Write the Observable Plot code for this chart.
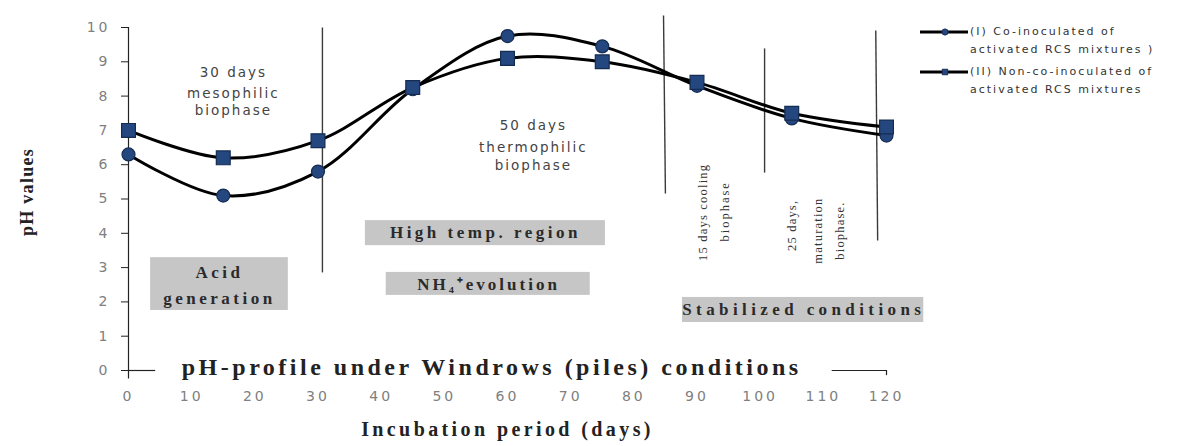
<!DOCTYPE html>
<html>
<head>
<meta charset="utf-8">
<script src="https://cdn.jsdelivr.net/npm/d3@7"></script>
<script src="https://cdn.jsdelivr.net/npm/@observablehq/plot@0.6"></script>
<style>
  body { margin: 0; background: #fff; }
  #wrap { position: relative; width: 1179px; height: 446px; overflow: hidden; background: #fff; }
  #legend { position: absolute; left: 918px; top: 23px; font-family: 'DejaVu Sans', Verdana, sans-serif; font-size: 11px; letter-spacing: 2px; color: #333; line-height: 18px; }
  #legend .item { display: flex; align-items: flex-start; margin-bottom: 4px; }
  #legend svg { flex: none; margin-top: 3px; margin-right: 2px; }
</style>
</head>
<body>
<div id="wrap"></div>
<script>
// ---- data ----
const days = [0, 15, 30, 45, 60, 75, 90, 105, 120];
const coInoculated = [6.3, 5.1, 5.8, 8.2, 9.75, 9.45, 8.3, 7.35, 6.85];
const nonCoInoculated = [7.0, 6.2, 6.7, 8.25, 9.1, 9.0, 8.4, 7.5, 7.1];
const seriesLabels = [
  ["(I) Co-inoculated of", "activated RCS mixtures )"],
  ["(II) Non-co-inoculated of", "activated RCS mixtures"]
];
const seriesSymbols = ["circle", "square"];
const xTicks = [0, 10, 20, 30, 40, 50, 60, 70, 80, 90, 100, 110, 120];
const yTicks = [0, 1, 2, 3, 4, 5, 6, 7, 8, 9, 10];
const chartTitle = "pH-profile under Windrows (piles) conditions";
const xLabel = "Incubation period (days)";
const yLabel = "pH values";

// annotations (in data units: day, pH)
const phaseNotes = [
  {text: "30 days", x: 16.6, y: 8.69},
  {text: "mesophilic", x: 16.6, y: 8.08},
  {text: "biophase", x: 16.6, y: 7.58},
  {text: "50 days", x: 64.1, y: 7.14},
  {text: "thermophilic", x: 64.1, y: 6.5},
  {text: "biophase", x: 64.1, y: 5.98}
];
const boxes = [
  {x1: 3.5, x2: 25.3, y1: 1.75, y2: 3.29},
  {x1: 37.5, x2: 75.5, y1: 3.64, y2: 4.37},
  {x1: 40.8, x2: 73.1, y1: 2.19, y2: 2.86},
  {x1: 87.7, x2: 125.9, y1: 1.40, y2: 2.13}
];
const boxLabels = [
  {text: "Acid", x: 14.4, y: 2.86},
  {text: "generation", x: 14.4, y: 2.10},
  {text: "High temp. region", x: 56.5, y: 4.02},
  {text: "NH\u2084\u207Aevolution", x: 57, y: 2.51},
  {text: "Stabilized conditions", x: 106.9, y: 1.78}
];
const verticalNotes = [
  {text: "15 days cooling", x: 91.0, y: 4.61},
  {text: "biophase", x: 94.5, y: 4.64},
  {text: "25 days,", x: 105.1, y: 4.23},
  {text: "maturation", x: 109.1, y: 4.08},
  {text: "biophase.", x: 112.7, y: 4.08}
];
const phaseLines = [
  {x1: 30.7, y1: 10.0, x2: 30.7, y2: 2.86},
  {x1: 84.7, y1: 10.35, x2: 85.0, y2: 5.16},
  {x1: 100.7, y1: 9.39, x2: 100.7, y2: 5.77},
  {x1: 118.3, y1: 9.91, x2: 118.6, y2: 3.79}
];
const axisLineSegments = [{x1: 0, x2: 4.3}, {x1: 111.4, x2: 120}];
const titlePos = {x: 57.5, y: 0.08};

// ---- build ----
const serif = "'Liberation Serif', 'Times New Roman', serif";
const sans = "'DejaVu Sans', Verdana, sans-serif";
const markerFill = "#25477f";
const markerStroke = "#152c52";

const rows = [];
days.forEach((d, i) => {
  rows.push({day: d, ph: coInoculated[i], s: 0});
  rows.push({day: d, ph: nonCoInoculated[i], s: 1});
});

const svg = Plot.plot({
  width: 1179,
  height: 446,
  marginLeft: 128,
  marginRight: 293,
  marginTop: 27,
  marginBottom: 76,
  style: {background: "#fff", fontFamily: sans, overflow: "visible"},
  x: {domain: [0, 120]},
  y: {domain: [0, 10]},
  marks: [
    Plot.rect(boxes, {x1: "x1", x2: "x2", y1: "y1", y2: "y2", fill: "#c6c6c6"}),
    Plot.link(phaseLines, {x1: "x1", y1: "y1", x2: "x2", y2: "y2", stroke: "#3a3a3a", strokeWidth: 1.4}),
    Plot.ruleX([0], {y1: -0.25, y2: 10, stroke: "#222", strokeWidth: 1.2}),
    Plot.ruleY(axisLineSegments, {x1: "x1", x2: "x2", y: 0, stroke: "#222", strokeWidth: 1.2}),
    Plot.ruleX([120], {y1: -0.15, y2: 0, stroke: "#222", strokeWidth: 1.2}),
    Plot.axisY(yTicks, {tickSize: 7, tickPadding: 11, fontSize: 14, fontFamily: sans, fill: "#808080", stroke: "#222", label: null}),
    Plot.axisX(xTicks, {tickSize: 0, tickPadding: 21, fontSize: 14, fontFamily: sans, fill: "#808080", label: null}),
    Plot.text(phaseNotes, {x: "x", y: "y", text: "text", fontSize: 13.5, fontFamily: sans, fill: "#444"}),
    Plot.text(boxLabels, {x: "x", y: "y", text: "text", fontSize: 17, fontWeight: "bold", fontFamily: serif, fill: "#2a2a2a"}),
    Plot.text(verticalNotes, {x: "x", y: "y", text: "text", rotate: -90, fontSize: 12.5, fontFamily: serif, fill: "#333"}),
    Plot.line(rows, {x: "day", y: "ph", z: "s", stroke: "#000", strokeWidth: 3, curve: "catmull-rom"}),
    Plot.dot(rows.filter(r => r.s === 0), {x: "day", y: "ph", symbol: seriesSymbols[0], r: 6.5, fill: markerFill, stroke: markerStroke, strokeWidth: 1.2}),
    Plot.dot(rows.filter(r => r.s === 1), {x: "day", y: "ph", symbol: seriesSymbols[1], r: 7.8, fill: markerFill, stroke: markerStroke, strokeWidth: 1.2}),
    Plot.text([titlePos], {x: "x", y: "y", text: () => chartTitle, fontSize: 24, fontWeight: "bold", fontFamily: serif, fill: "#222"}),
    Plot.text([xLabel], {frameAnchor: "bottom", dy: 65, text: d => d, fontSize: 20, fontWeight: "bold", fontFamily: serif, fill: "#222"}),
    Plot.text([yLabel], {frameAnchor: "left", textAnchor: "middle", dx: -101, dy: -7, rotate: -90, text: d => d, fontSize: 18, fontWeight: "bold", fontFamily: serif, fill: "#222"})
  ]
});

// letter spacing to match the stretched look of the reference
const spacing = new Map([
  [chartTitle, 3.5], [xLabel, 3.4], [yLabel, 1.3],
  ["Acid", 3.5], ["generation", 3.5], ["High temp. region", 3.5],
  ["NH\u2084\u207Aevolution", 3], ["Stabilized conditions", 4.4],
  ["30 days", 2], ["mesophilic", 2], ["biophase", 2], ["50 days", 2], ["thermophilic", 2],
  ["15 days cooling", 1.2], ["25 days,", 1.2], ["maturation", 1.2], ["biophase.", 1.2]
]);
d3.select(svg).selectAll("text").each(function () {
  const s = spacing.get(this.textContent);
  if (s != null) this.style.letterSpacing = s + "px";
});
d3.select(svg).selectAll('g[aria-label="x-axis tick label"] text, g[aria-label="y-axis tick label"] text')
  .style("letter-spacing", "3px");

const wrap = document.getElementById("wrap");
wrap.appendChild(svg);

// legend
const legend = document.createElement("div");
legend.id = "legend";
seriesLabels.forEach((lines, i) => {
  const item = document.createElement("div");
  item.className = "item";
  const ns = "http://www.w3.org/2000/svg";
  const s = document.createElementNS(ns, "svg");
  s.setAttribute("width", "50");
  s.setAttribute("height", "12");
  const ln = document.createElementNS(ns, "line");
  ln.setAttribute("x1", "2"); ln.setAttribute("x2", "50");
  ln.setAttribute("y1", "6"); ln.setAttribute("y2", "6");
  ln.setAttribute("stroke", "#000"); ln.setAttribute("stroke-width", "3");
  s.appendChild(ln);
  const sym = d3.symbol(seriesSymbols[i] === "circle" ? d3.symbolCircle : d3.symbolSquare, 30)();
  const p = document.createElementNS(ns, "path");
  p.setAttribute("d", sym);
  p.setAttribute("transform", "translate(27,6)");
  p.setAttribute("fill", markerFill);
  p.setAttribute("stroke", markerStroke);
  s.appendChild(p);
  item.appendChild(s);
  const t = document.createElement("div");
  t.innerHTML = lines.join("<br>");
  item.appendChild(t);
  legend.appendChild(item);
});
wrap.appendChild(legend);
</script>
</body>
</html>
